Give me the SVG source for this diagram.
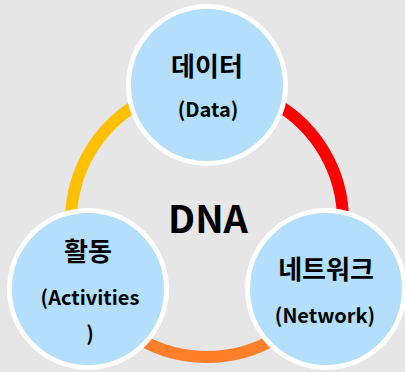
<svg xmlns="http://www.w3.org/2000/svg" width="405" height="372" viewBox="0 0 405 372">
<style>
.arc{fill:none;stroke-width:12}
.node circle{fill:#b3dffd;stroke:#ffffff;stroke-width:5}
text{font-family:"Noto Sans CJK KR","Noto Sans",sans-serif;font-weight:700;fill:#000;text-anchor:middle}
.t1{font-size:26px}
.t2{font-size:20px}
</style>
<rect width="405" height="372" fill="#e6e6e6"/>
<g id="connectors">
<path class="arc" stroke="#ff0000" d="M207,85 A136,136 0 0 1 324.8,289"/>
<path class="arc" stroke="#ff7f2a" d="M324.8,289 A136,136 0 0 1 89.2,289"/>
<path class="arc" stroke="#ffc000" d="M89.2,289 A136,136 0 0 1 207,85"/>
</g>
<g id="dna"><text x="208" y="233" style="font-size:38px">DNA</text></g>
<g id="node-data" class="node">
<circle cx="207" cy="85" r="78.5"/>
<text class="t1" x="207" y="76">데이터</text>
<text class="t2" x="208" y="117">(Data)</text>
</g>
<g id="node-activities" class="node">
<circle cx="88" cy="289" r="78.5"/>
<text class="t1" x="88" y="261">활동</text>
<text class="t2" x="90" y="305">(Activities</text>
<text class="t2" x="90" y="341">)</text>
</g>
<g id="node-network" class="node">
<circle cx="326" cy="289" r="78.5"/>
<text class="t1" x="326" y="279">네트워크</text>
<text class="t2" x="325" y="323">(Network)</text>
</g>
</svg>
